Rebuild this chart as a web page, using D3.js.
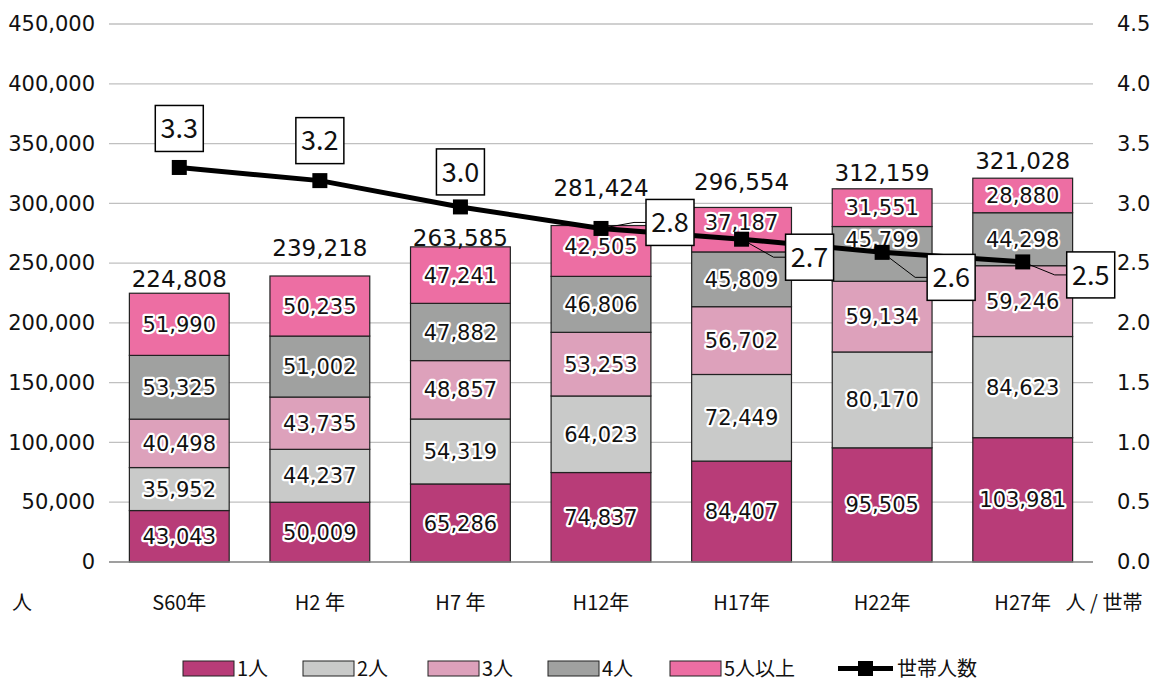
<!DOCTYPE html>
<html>
<head>
<meta charset="utf-8">
<script src="https://cdn.jsdelivr.net/npm/d3@7"></script>
<style>
    body { margin: 0; background: #fff; }
    svg { display: block; font-family: "Noto Sans CJK JP", "Noto Sans", sans-serif; }
    .num { font-family: "DejaVu Sans", "Noto Sans CJK JP", sans-serif; }
</style>
</head>
<body>
<div class="chart"></div>
<script>
// data
var years = ["S60年", "H2 年", "H7 年", "H12年", "H17年", "H22年", "H27年"];
var seriesNames = ["1人", "2人", "3人", "4人", "5人以上"];
var p1 = [43043, 50009, 65286, 74837, 84407, 95505, 103981];
var p2 = [35952, 44237, 54319, 64023, 72449, 80170, 84623];
var p3 = [40498, 43735, 48857, 53253, 56702, 59134, 59246];
var p4 = [53325, 51002, 47882, 46806, 45809, 45799, 44298];
var p5 = [51990, 50235, 47241, 42505, 37187, 31551, 28880];
var perHousehold = [3.30, 3.19, 2.97, 2.79, 2.70, 2.59, 2.51];
var leftTicks = [0, 50000, 100000, 150000, 200000, 250000, 300000, 350000, 400000, 450000];
var rightTicks = [0, 0.5, 1.0, 1.5, 2.0, 2.5, 3.0, 3.5, 4.0, 4.5];

var colors = ["#b83c78", "#c9cac9", "#dda1bb", "#a0a1a0", "#ed6ea3"];
// label nudges (layout only)
var calloutDx = [0, 0, 0, 69, 68, 69, 68];
var calloutDy = [-39, -40, -35, -6, 18, 25, 13];
var totalDy = [-6, -20, -1, -30, -17, -8, -9];
var segNudge = {"5人以上|H12年": -5, "5人以上|H17年": -7, "4人|H22年": -14};

var W = 1152, H = 681;
var mLeft = 109, mRight = 1093, mTop = 24, mBottom = 562;

var svg = d3.select(".chart").append("svg")
        .attr("width", W)
        .attr("height", H);

var x = d3.scaleBand()
        .domain(years)
        .range([mLeft, mRight])
        .paddingInner(0.29)
        .paddingOuter(0.145);

var y = d3.scaleLinear().domain([0, 450000]).range([mBottom, mTop]);
var y2 = d3.scaleLinear().domain([0, 4.5]).range([mBottom, mTop]);

// grid
svg.append("g").selectAll("line")
        .data(leftTicks.filter(function (d) { return d > 0; }))
        .enter().append("line")
        .attr("x1", mLeft).attr("x2", mRight)
        .attr("y1", function (d) { return y(d); })
        .attr("y2", function (d) { return y(d); })
        .style("stroke", "#c0c0c0")
        .style("stroke-width", 1.3);

// left axis
var yAxis = d3.axisLeft(y).tickValues(leftTicks).tickSize(0).tickPadding(14)
        .tickFormat(d3.format(","));
var yg = svg.append("g").attr("transform", "translate(" + mLeft + ",0)").call(yAxis);
yg.select(".domain").remove();
yg.attr("font-family", null);
yg.selectAll("text").attr("class", "num").style("font-size", "21px").style("fill", "#111");

// right axis
var y2Axis = d3.axisRight(y2).tickValues(rightTicks).tickSize(0).tickPadding(24)
        .tickFormat(d3.format(".1f"));
var y2g = svg.append("g").attr("transform", "translate(" + mRight + ",0)").call(y2Axis);
y2g.select(".domain").remove();
y2g.attr("font-family", null);
y2g.selectAll("text").attr("class", "num").style("font-size", "21px").style("fill", "#111");

// stacked data
var rows = years.map(function (yr, i) {
    return {year: yr, v: [p1[i], p2[i], p3[i], p4[i], p5[i]]};
});
var stackData = rows.map(function (r) {
    var o = {year: r.year};
    seriesNames.forEach(function (s, k) { o[s] = r.v[k]; });
    return o;
});
var stack = d3.stack().keys(seriesNames)(stackData);

// bars
var layers = svg.append("g").selectAll("g")
        .data(stack)
        .enter().append("g")
        .attr("fill", function (d, i) { return colors[i]; });

layers.selectAll("rect")
        .data(function (d) { return d; })
        .enter().append("rect")
        .attr("x", function (d) { return x(d.data.year); })
        .attr("width", x.bandwidth())
        .attr("y", function (d) { return y(d[1]); })
        .attr("height", function (d) { return y(d[0]) - y(d[1]); })
        .style("stroke", "#222")
        .style("stroke-width", 1.2);

// baseline
svg.append("line")
        .attr("x1", mLeft).attr("x2", mRight)
        .attr("y1", y(0)).attr("y2", y(0))
        .style("stroke", "#7f7f7f")
        .style("stroke-width", 1.5);

// segment labels
var labG = svg.append("g");
stack.forEach(function (layer) {
    labG.selectAll(null)
            .data(layer)
            .enter().append("text")
            .attr("class", "num")
            .attr("x", function (d) { return x(d.data.year) + x.bandwidth() / 2; })
            .attr("y", function (d) {
                var n = segNudge[layer.key + "|" + d.data.year] || 0;
                return (y(d[0]) + y(d[1])) / 2 + n;
            })
            .attr("dy", "0.36em")
            .attr("text-anchor", "middle")
            .style("font-size", "21px")
            .style("fill", "#111")
            .style("stroke", "#fff")
            .style("stroke-width", 4.5)
            .style("stroke-linejoin", "round")
            .style("paint-order", "stroke")
            .text(function (d) { return d3.format(",")(d[1] - d[0]); });
});

// totals
svg.append("g").selectAll("text")
        .data(rows)
        .enter().append("text")
        .attr("class", "num")
        .attr("x", function (d) { return x(d.year) + x.bandwidth() / 2; })
        .attr("y", function (d, i) { return y(d3.sum(d.v)) + totalDy[i]; })
        .attr("text-anchor", "middle")
        .style("font-size", "23px")
        .style("fill", "#111")
        .text(function (d) { return d3.format(",")(d3.sum(d.v)); });

// line
var pts = years.map(function (yr, i) {
    return {year: yr, v: perHousehold[i], cx: x(yr) + x.bandwidth() / 2, cy: y2(perHousehold[i]), i: i};
});

svg.append("path")
        .datum(pts)
        .attr("d", d3.line().x(function (d) { return d.cx; }).y(function (d) { return d.cy; }))
        .style("fill", "none")
        .style("stroke", "#000")
        .style("stroke-width", 5);

svg.append("g").selectAll("rect")
        .data(pts)
        .enter().append("rect")
        .attr("x", function (d) { return d.cx - 7.5; })
        .attr("y", function (d) { return d.cy - 7.5; })
        .attr("width", 15)
        .attr("height", 15)
        .style("fill", "#000");

// callouts
var bw = 48, bh = 46;
var cg = svg.append("g").selectAll("g")
        .data(pts)
        .enter().append("g");

cg.filter(function (d) { return calloutDx[d.i] > 0; })
        .append("polyline")
        .attr("points", function (d) {
            var bx = d.cx + calloutDx[d.i] - bw / 2, by = d.cy + calloutDy[d.i];
            return [[d.cx, d.cy], [bx - 12, by], [bx, by]].join(" ");
        })
        .style("fill", "none")
        .style("stroke", "#000")
        .style("stroke-width", 1);

cg.append("rect")
        .attr("x", function (d) { return d.cx + calloutDx[d.i] - bw / 2; })
        .attr("y", function (d) { return d.cy + calloutDy[d.i] - bh / 2; })
        .attr("width", bw)
        .attr("height", bh)
        .style("fill", "#fff")
        .style("stroke", "#000")
        .style("stroke-width", 1.5);

cg.append("text")
        .attr("x", function (d) { return d.cx + calloutDx[d.i]; })
        .attr("y", function (d) { return d.cy + calloutDy[d.i]; })
        .attr("dy", "0.36em")
        .attr("text-anchor", "middle")
        .style("font-size", "27px")
        .style("fill", "#111")
        .text(function (d) { return d.v.toFixed(1); });

// x labels
svg.append("g").selectAll("text")
        .data(years)
        .enter().append("text")
        .attr("x", function (d) { return x(d) + x.bandwidth() / 2; })
        .attr("y", 610)
        .attr("text-anchor", "middle")
        .style("font-size", "20px")
        .style("fill", "#111")
        .text(function (d) { return d; });

svg.append("text").attr("x", 22).attr("y", 610).attr("text-anchor", "middle")
        .style("font-size", "20px").style("fill", "#111").text("人");
svg.append("text").attr("x", 1104).attr("y", 610).attr("text-anchor", "middle")
        .style("font-size", "20px").style("fill", "#111").text("人 / 世帯");

// legend
var legX = [183, 303, 428, 548, 670];
var lg = svg.append("g");
seriesNames.forEach(function (s, i) {
    lg.append("rect")
            .attr("x", legX[i]).attr("y", 661)
            .attr("width", 51).attr("height", 15)
            .style("fill", colors[i])
            .style("stroke", "#222")
            .style("stroke-width", 1);
    lg.append("text")
            .attr("x", legX[i] + 54).attr("y", 676)
            .style("font-size", "20px").style("fill", "#111")
            .text(s);
});
lg.append("line").attr("x1", 838).attr("x2", 893).attr("y1", 668.5).attr("y2", 668.5)
        .style("stroke", "#000").style("stroke-width", 5);
lg.append("rect").attr("x", 858).attr("y", 661).attr("width", 15).attr("height", 15).style("fill", "#000");
lg.append("text").attr("x", 897).attr("y", 676)
        .style("font-size", "20px").style("fill", "#111").text("世帯人数");
</script>
</body>
</html>
